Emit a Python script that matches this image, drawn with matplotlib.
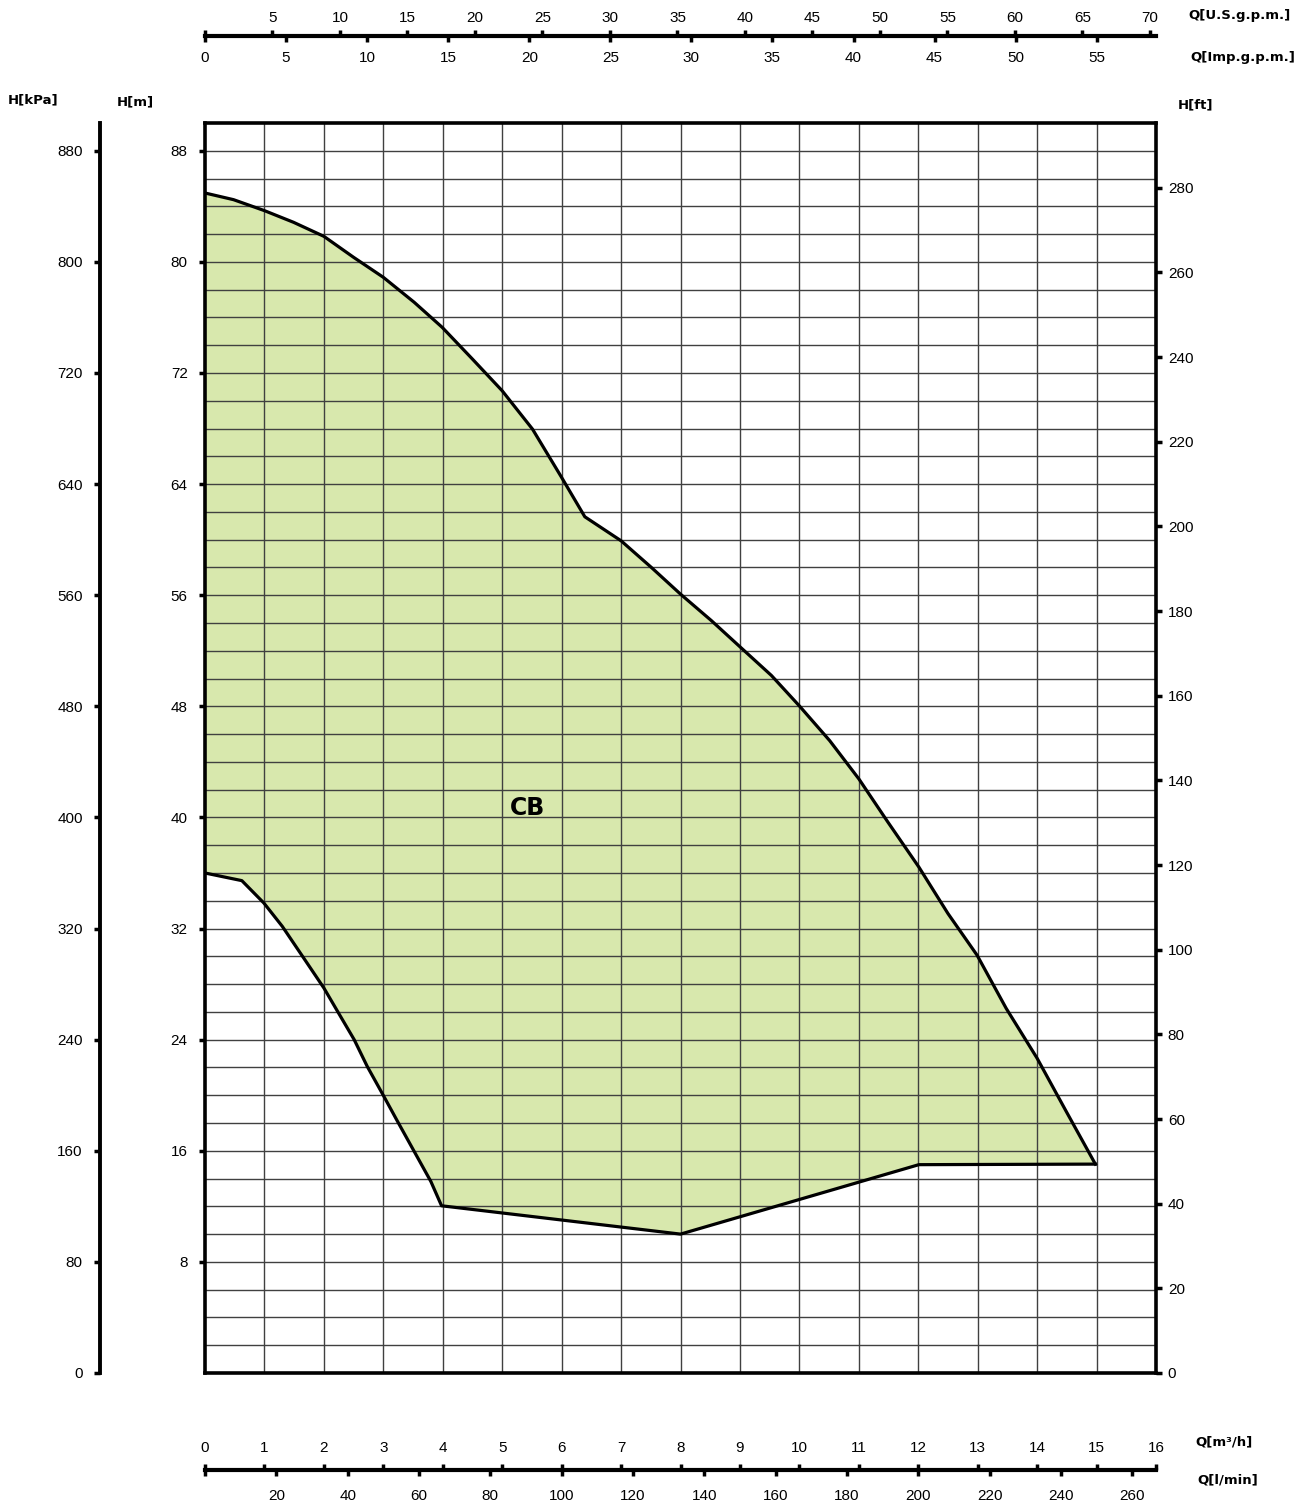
import numpy as np
import matplotlib
matplotlib.use("Agg")
import matplotlib.pyplot as plt

# ---------------- data ----------------
q_upper = [0, 0.48, 1, 1.49, 2, 2.5, 3, 3.52, 3.99, 4.5, 5.0, 5.51, 6.0, 6.39,
           7.0, 7.51, 8.0, 8.52, 9.01, 9.53, 10.0, 10.51, 11.0, 11.49, 12.01, 12.5,
           12.99, 13.48, 14.0, 14.49, 14.98]
h_upper = [84.96, 84.48, 83.69, 82.85, 81.84, 80.33, 78.89, 77.09, 75.29, 73.0, 70.72, 67.96, 64.48, 61.65,
           59.92, 58.0, 56.08, 54.17, 52.25, 50.22, 48.03, 45.53, 42.78, 39.66, 36.43, 33.08,
           30.08, 26.25, 22.66, 18.83, 15.04]
q_lower = [0, 0.62, 0.99, 1.3, 1.66, 2.0, 2.23, 2.51, 2.73, 3.0, 3.24, 3.52, 3.8, 3.98, 8.0, 12.01, 14.98]
h_lower = [36.0, 35.45, 33.84, 32.16, 29.88, 27.72, 26.04, 24.0, 22.07, 19.99, 18.11, 15.95, 13.79, 12.04,
           10.0, 15.0, 15.04]
series_label = "CB"

m3h_ticks = list(range(0, 17))
lmin_ticks = list(range(20, 261, 20))
usgpm_ticks = list(range(5, 71, 5))
impgpm_ticks = list(range(0, 56, 5))
hm_ticks = list(range(8, 89, 8))
kpa_ticks = list(range(0, 881, 80))
ft_ticks = list(range(0, 281, 20))

# unit conversions (per m3/h and per m)
US_PER_M3H = 4.40287
IMP_PER_M3H = 3.66615
LMIN_PER_M3H = 16.6667
KPA_PER_M = 10.0
FT_PER_M = 3.28084

QMAX = 16
HMAX = 90

# ---------------- figure ----------------
plt.rcParams['font.family'] = ['Liberation Sans', 'DejaVu Sans']
W, H = 1316, 1505
fig = plt.figure(figsize=(W / 100, H / 100), dpi=100)

TICK_FS = 11

def fx(px):
    return px / W

def fy(py):
    return 1 - py / H

L, R, T, B = 205, 1156, 123, 1373
ax = fig.add_axes([fx(L), fy(B), fx(R - L), (B - T) / H])
ax.set_xlim(0, QMAX)
ax.set_ylim(0, HMAX)

# grid
for q in range(1, QMAX):
    ax.axvline(q, color='#404040', lw=1.0, zorder=1)
for h in range(2, HMAX, 2):
    ax.axhline(h, color='#404040', lw=1.0, zorder=1)

poly_q = np.concatenate([q_upper, q_lower[::-1]])
poly_h = np.concatenate([h_upper, h_lower[::-1]])
ax.fill(poly_q, poly_h, color='#d8e8ad', zorder=0.5, lw=0)
ax.plot(q_upper, h_upper, color='black', lw=2.3, zorder=3)
ax.plot(q_lower, h_lower, color='black', lw=2.3, zorder=3)
ax.text(5.42, 40.7, series_label, fontsize=17, fontweight='bold', family='DejaVu Sans',
        ha='center', va='center', zorder=4)

for s in ax.spines.values():
    s.set_linewidth(2.6)
ax.set_xticks([])
ax.set_yticks(hm_ticks)
ax.set_yticklabels([str(v) for v in hm_ticks])
ax.tick_params(axis='y', direction='out', length=4.5, width=2.5, labelsize=TICK_FS, pad=8)

# right ft axis
axr = ax.twinx()
axr.set_ylim(0, HMAX * FT_PER_M)
axr.set_yticks(ft_ticks)
axr.set_yticklabels([str(v) for v in ft_ticks])
axr.tick_params(axis='y', direction='out', length=4.5, width=2.5, labelsize=TICK_FS, pad=4)
for s in axr.spines.values():
    s.set_visible(False)

# left kPa axis
axk = fig.add_axes([fx(100), fy(B), 1e-5, (B - T) / H])
axk.set_ylim(0, HMAX * KPA_PER_M)
axk.set_xticks([])
axk.set_yticks(kpa_ticks)
axk.set_yticklabels([str(v) for v in kpa_ticks])
axk.tick_params(axis='y', direction='out', length=4.5, width=2.5, labelsize=TICK_FS, pad=8)
for k, s in axk.spines.items():
    s.set_visible(k == 'left')
axk.spines['left'].set_linewidth(2.8)
axk.patch.set_visible(False)

def flat_axis(y_px, xmax, ticks, labels, side, pad, show_line):
    a = fig.add_axes([fx(L), fy(y_px), fx(R - L), 1e-5])
    a.set_xlim(0, xmax)
    a.set_yticks([])
    a.patch.set_visible(False)
    for k, s in a.spines.items():
        s.set_visible(show_line and k == 'bottom')
    a.spines['bottom'].set_linewidth(3.0)
    a.set_xticks(ticks)
    a.set_xticklabels(labels)
    if side == 'top':
        a.xaxis.tick_top()
    else:
        a.xaxis.tick_bottom()
    a.tick_params(axis='x', direction='out', length=4.5, width=2.5, labelsize=TICK_FS, pad=pad)
    return a

# top axes: US gpm (up) & Imp gpm (down)
flat_axis(36, QMAX * US_PER_M3H, [0] + usgpm_ticks, [''] + [str(v) for v in usgpm_ticks], 'top', 3.5, True)
flat_axis(36, QMAX * IMP_PER_M3H, impgpm_ticks, [str(v) for v in impgpm_ticks], 'bottom', 6, False)

# bottom axes: m3/h (up) & l/min (down)
flat_axis(1470, QMAX, m3h_ticks, [str(v) for v in m3h_ticks], 'top', 6.5, True)
flat_axis(1470, QMAX * LMIN_PER_M3H, [0] + lmin_ticks, [''] + [str(v) for v in lmin_ticks], 'bottom', 9, False)

# unit labels
lab_kw = dict(fontsize=9.5, fontweight='bold', family='DejaVu Sans', va='center')
fig.text(fx(8), fy(100), "H[kPa]", ha='left', **lab_kw)
fig.text(fx(117), fy(102), "H[m]", ha='left', **lab_kw)
fig.text(fx(1178), fy(105), "H[ft]", ha='left', **lab_kw)
fig.text(fx(1188), fy(16), "Q[U.S.g.p.m.]", ha='left', **lab_kw)
fig.text(fx(1190), fy(57), "Q[Imp.g.p.m.]", ha='left', **lab_kw)
fig.text(fx(1195), fy(1442), "Q[m³/h]", ha='left', **lab_kw)
fig.text(fx(1197), fy(1480), "Q[l/min]", ha='left', **lab_kw)

fig.savefig("out.png", dpi=100)
